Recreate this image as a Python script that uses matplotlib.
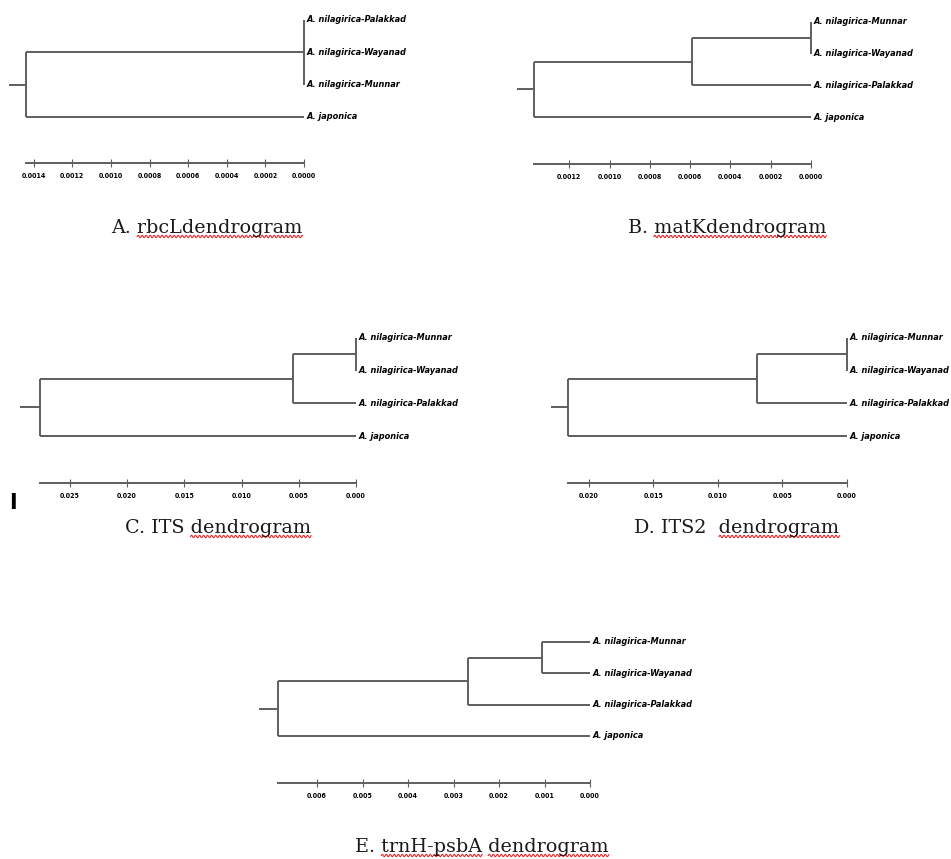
import numpy as np
import matplotlib
matplotlib.use("Agg")
import matplotlib.pyplot as plt
from matplotlib.lines import Line2D

W, H = 951, 859

# --- data -----------------------------------------------------------------
munnar = "A. nilagirica-Munnar"
wayanad = "A. nilagirica-Wayanad"
palakkad = "A. nilagirica-Palakkad"
japonica = "A. japonica"

# A. rbcL
rbcl_taxa = [palakkad, wayanad, munnar, japonica]
rbcl_root = 0.00144
rbcl_ticks = [0.0014, 0.0012, 0.0010, 0.0008, 0.0006, 0.0004, 0.0002, 0.0000]

# B. matK
matk_taxa = [munnar, wayanad, palakkad, japonica]
matk_root = 0.001375
matk_nilagirica = 0.00059
matk_ticks = [0.0012, 0.0010, 0.0008, 0.0006, 0.0004, 0.0002, 0.0000]

# C. ITS
its_taxa = [munnar, wayanad, palakkad, japonica]
its_root = 0.0276
its_nilagirica = 0.0055
its_ticks = [0.025, 0.020, 0.015, 0.010, 0.005, 0.000]

# D. ITS2
its2_taxa = [munnar, wayanad, palakkad, japonica]
its2_root = 0.0216
its2_nilagirica = 0.0070
its2_ticks = [0.020, 0.015, 0.010, 0.005, 0.000]

# E. trnH-psbA
trnh_taxa = [munnar, wayanad, palakkad, japonica]
trnh_root = 0.00686
trnh_nilagirica = 0.00268
trnh_munnar_wayanad = 0.00105
trnh_ticks = [0.006, 0.005, 0.004, 0.003, 0.002, 0.001, 0.000]

# trees as (height, children); an int child is the row of a tip (height 0)
rbcl_tree = (rbcl_root, [(0.0, [0, 1, 2]), 3])
matk_tree = (matk_root, [(matk_nilagirica, [(0.0, [0, 1]), 2]), 3])
its_tree = (its_root, [(its_nilagirica, [(0.0, [0, 1]), 2]), 3])
its2_tree = (its2_root, [(its2_nilagirica, [(0.0, [0, 1]), 2]), 3])
trnh_tree = (trnh_root, [(trnh_nilagirica, [(trnh_munnar_wayanad, [0, 1]), 2]), 3])

LINE = "#5e5e5e"
NARROW = ["DejaVu Sans"]
SERIF = ["DejaVu Serif"]
TITLE_SIZE = 13.8


def draw_node(ax, node, parent_h=None):
    if isinstance(node, int):
        y, h = node, 0.0
    else:
        h, kids = node
        ys = [draw_node(ax, k, h) for k in kids]
        ax.plot([h, h], [min(ys), max(ys)], color=LINE, lw=1.4,
                solid_capstyle="butt", clip_on=False)
        y = (min(ys) + max(ys)) / 2
    if parent_h is not None and parent_h != h:
        ax.plot([parent_h, h], [y, y], color=LINE, lw=1.4,
                solid_capstyle="butt", clip_on=False)
    return y


def panel(fig, tree, taxa, ticks, fmt, left, right, row0, step, axis_y):
    top = row0 - 0.5 * step
    axis_row = (axis_y - row0) / step
    ax = fig.add_axes([left / W, 1 - axis_y / H, (right - left) / W, (axis_y - top) / H])
    root_h = tree[0]
    root_y = draw_node(ax, tree)
    ax.plot([root_h * 1.062, root_h], [root_y, root_y], color=LINE, lw=1.4,
            solid_capstyle="butt", clip_on=False)
    for row, name in enumerate(taxa):
        ax.annotate(name, (0, row), xytext=(1.5, 0), textcoords="offset points",
                    va="center", ha="left", fontsize=6.6, family=NARROW,
                    fontstretch="condensed", fontweight="bold", style="italic",
                    annotation_clip=False)
    ax.set_xlim(root_h, 0)
    ax.set_ylim(axis_row, -0.5)
    for side in ("left", "right", "top"):
        ax.spines[side].set_visible(False)
    ax.spines["bottom"].set_color(LINE)
    ax.spines["bottom"].set_linewidth(1.4)
    ax.set_yticks([])
    ax.set_xticks(ticks)
    ax.set_xticklabels([fmt.format(t) for t in ticks], fontsize=5,
                       family=NARROW, fontstretch="condensed", fontweight="bold")
    ax.tick_params(axis="x", direction="inout", length=6, width=0.8,
                   color=LINE, pad=4)
    ax.patch.set_visible(False)
    return ax


def title(fig, cx, cy, text, wavy):
    t = fig.text(cx / W, 1 - cy / H, text, ha="center", va="center",
                 fontsize=TITLE_SIZE, family=SERIF, color="#1a1a1a")
    r = fig.canvas.get_renderer()
    bb = t.get_window_extent(r)

    def width(s):
        tmp = fig.text(0, 0, s, fontsize=TITLE_SIZE, family=SERIF)
        w = tmp.get_window_extent(r).width
        tmp.remove()
        return w

    bar = width("I")
    for word in wavy:
        i = text.index(word)
        x0 = bb.x0 + width(text[:i] + "I") - bar if i else bb.x0
        x1 = x0 + width(word)
        xs = np.linspace(x0, x1, int((x1 - x0) * 2) + 2)
        ys = bb.y0 + 0.5 + 1.2 * np.sin(2 * np.pi * (xs - x0) / 4.0)
        fig.add_artist(Line2D(xs / W, ys / H, transform=fig.transFigure,
                              color="#e8262b", lw=0.8))


fig = plt.figure(figsize=(W / 100, H / 100), dpi=100)
fig.patch.set_facecolor("white")

panel(fig, rbcl_tree, rbcl_taxa, rbcl_ticks, "{:.4f}", 26, 304, 20, 32.3, 163)
panel(fig, matk_tree, matk_taxa, matk_ticks, "{:.4f}", 534, 811, 22, 31.7, 164)
panel(fig, its_tree, its_taxa, its_ticks, "{:.3f}", 40, 356, 338, 32.7, 483)
panel(fig, its2_tree, its2_taxa, its2_ticks, "{:.3f}", 568, 847, 338, 32.7, 483)
panel(fig, trnh_tree, trnh_taxa, trnh_ticks, "{:.3f}", 278, 590, 642, 31.3, 783)

title(fig, 207, 228, "A. rbcLdendrogram", ["rbcLdendrogram"])
title(fig, 727, 228, "B. matKdendrogram", ["matKdendrogram"])
title(fig, 218, 528, "C. ITS dendrogram", ["dendrogram"])
title(fig, 737, 528, "D. ITS2  dendrogram", ["dendrogram"])
title(fig, 482, 847, "E. trnH-psbA dendrogram", ["trnH-psbA", "dendrogram"])

# stray cursor mark left of panel C
fig.text(13 / W, 1 - 503 / H, "I", ha="center", va="center", fontsize=15,
         fontweight="bold", family="DejaVu Sans")

fig.savefig("out.png", dpi=100, facecolor="white")
